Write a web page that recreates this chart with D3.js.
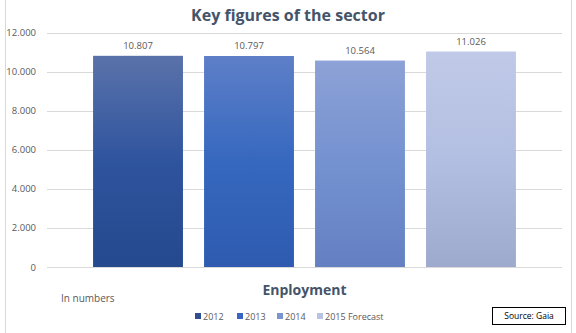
<!DOCTYPE html>
<html>
<head>
<meta charset="utf-8">
<script src="https://cdn.jsdelivr.net/npm/d3@7"></script>
<style>
  html, body { margin: 0; padding: 0; background: #fff; }
  svg { display: block; font-family: "Open Sans", "Noto Sans", sans-serif; }
</style>
</head>
<body>
<svg id="chart" width="576" height="333"></svg>
<script>
// Employment figures per year (one category, four series)
const years = ["2012", "2013", "2014", "2015 Forecast"];
const employment = [10807, 10797, 10564, 11026];
const yTicks = [0, 2000, 4000, 6000, 8000, 10000, 12000];
const category = "Enployment";

// Gradient stops (top, middle, bottom) and legend swatch colour per series
const gradTop = ["#5a72aa", "#5e7fc8", "#8da2d6", "#c0c9e7"];
const gradMid = ["#2f549e", "#3668bf", "#7491d0", "#b3bfe2"];
const gradBottom = ["#25498d", "#2e5bb0", "#6480c2", "#9da9cd"];
const swatch = ["#2f4f91", "#3766c2", "#7b94d0", "#b8c2e2"];

const svg = d3.select("#chart");
const W = 576, H = 333;

// chart frame edges
svg.append("line").attr("x1", 5.5).attr("x2", 5.5).attr("y1", 0).attr("y2", H)
  .attr("stroke", "#d9d9d9");
svg.append("line").attr("x1", 571.5).attr("x2", 571.5).attr("y1", 0).attr("y2", H)
  .attr("stroke", "#d9d9d9");

const plot = { left: 47, right: 562, top: 32.5, bottom: 267 };

const y = d3.scaleLinear().domain([0, 12000]).range([plot.bottom, plot.top]);
const x = d3.scaleBand().domain(years).range([plot.left, plot.right])
  .paddingInner(0.19).paddingOuter(0.415);

const fmt = v => d3.format(",")(v).replace(/,/g, ".");

// gradients
const defs = svg.append("defs");
years.forEach((yr, i) => {
  const g = defs.append("linearGradient").attr("id", "g" + i)
    .attr("x1", 0).attr("y1", 0).attr("x2", 0).attr("y2", 1);
  g.append("stop").attr("offset", "0%").attr("stop-color", gradTop[i]);
  g.append("stop").attr("offset", "50%").attr("stop-color", gradMid[i]);
  g.append("stop").attr("offset", "100%").attr("stop-color", gradBottom[i]);
});

// title
svg.append("text").attr("x", 288).attr("y", 21).attr("text-anchor", "middle")
  .attr("font-size", 16).attr("font-weight", 700).attr("fill", "#44546a")
  .text("Key figures of the sector");

// gridlines + y axis labels
const yAxis = d3.axisLeft(y).tickValues(yTicks).tickFormat(fmt)
  .tickSize(-(plot.right - plot.left)).tickPadding(11);
const ga = svg.append("g").attr("transform", `translate(${plot.left},0)`).call(yAxis);
ga.select(".domain").remove();
ga.selectAll(".tick line").attr("stroke", "#d9d9d9").attr("stroke-width", 1)
  .attr("shape-rendering", "crispEdges");
ga.selectAll(".tick text").attr("fill", "#595959").attr("font-size", 9.5)
  .attr("font-family", "'Open Sans', sans-serif");

// bars
svg.append("g").selectAll("rect").data(employment).join("rect")
  .attr("x", (d, i) => x(years[i]))
  .attr("width", x.bandwidth())
  .attr("y", d => y(d))
  .attr("height", d => y(0) - y(d))
  .attr("fill", (d, i) => `url(#g${i})`);

// value labels
svg.append("g").selectAll("text").data(employment).join("text")
  .attr("x", (d, i) => x(years[i]) + x.bandwidth() / 2)
  .attr("y", d => y(d) - 7)
  .attr("text-anchor", "middle").attr("font-size", 9.5).attr("fill", "#595959")
  .text(fmt);

// category label
svg.append("text").attr("x", (plot.left + plot.right) / 2).attr("y", 295)
  .attr("text-anchor", "middle").attr("font-size", 14).attr("font-weight", 700)
  .attr("fill", "#44546a").text(category);

// unit note
svg.append("text").attr("x", 61).attr("y", 302).attr("font-size", 10)
  .attr("fill", "#595959").text("In numbers");

// legend
const legendX = [195, 237, 277, 317];
const lg = svg.append("g").selectAll("g").data(years).join("g")
  .attr("transform", (d, i) => `translate(${legendX[i]},313)`);
lg.append("rect").attr("width", 6).attr("height", 6).attr("fill", (d, i) => swatch[i]);
lg.append("text").attr("x", 8).attr("y", 6.5).attr("font-size", 9)
  .attr("fill", "#595959").text(d => d);

// source box
svg.append("rect").attr("x", 492.5).attr("y", 307.5).attr("width", 73).attr("height", 17)
  .attr("fill", "#fff").attr("stroke", "#000").attr("stroke-width", 1);
svg.append("text").attr("x", 529).attr("y", 319).attr("text-anchor", "middle")
  .attr("font-size", 8.5).attr("fill", "#000").text("Source: Gaia");
</script>
</body>
</html>
